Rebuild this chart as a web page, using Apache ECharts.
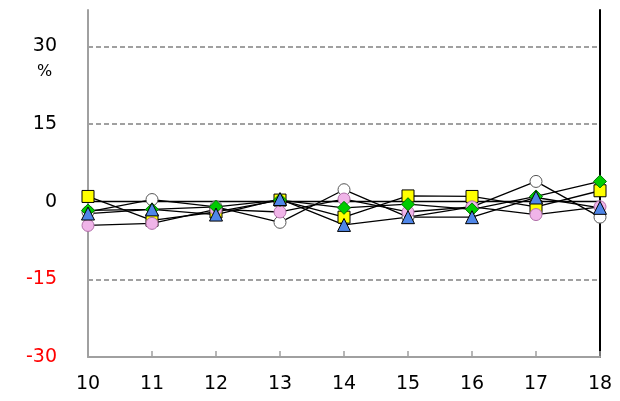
<!DOCTYPE html>
<html>
<head>
<meta charset="utf-8">
<script src="https://cdn.jsdelivr.net/npm/echarts@6/dist/echarts.min.js"></script>
<style>html,body{margin:0;padding:0;background:#fff}#c{width:620px;height:401px}</style>
</head>
<body>
<div id="c"></div>
<script>
var categories = ['10','11','12','13','14','15','16','17','18'];
var whiteCircle = [-2, 0.4, -1, -4, 2.3, -3, -1, 3.9, -3];
var yellowSquare = [1, -3.6, -2, 0.3, -3, 1.1, 1, -1, 2.1];
var pinkCircle = [-4.6, -4.2, -1.5, -2, 0.5, -2, -1, -2.5, -1];
var greenDiamond = [-1.7, -1.5, -1, 0.3, -1.2, -0.5, -1.5, 1, 3.9];
var blueTriangle = [-2.3, -1.5, -2.5, 0.5, -4.5, -3, -3, 0.8, -1.2];
var yTicks = [-30, -15, 0, 15, 30];
var dashedLevels = [30, 15, -15];

var chart = echarts.init(document.getElementById('c'), null, {renderer: 'canvas'});
var font = 'DejaVu Sans';
function mk(name, data, symbol, fill, border, size) {
  return {
    name: name, type: 'line', data: data, symbol: symbol, symbolSize: size,
    showAllSymbol: true,
    lineStyle: {color: '#000', width: 1.3},
    itemStyle: {color: fill, borderColor: border, borderWidth: 1},
    emphasis: {disabled: true},
    animation: false
  };
}
var series = [
  mk('a', whiteCircle, 'circle', '#ffffff', '#555555', 12),
  mk('b', yellowSquare, 'rect', '#ffff00', '#000000', 12),
  mk('c', pinkCircle, 'circle', '#f0b4e8', '#b070a8', 12),
  mk('d', greenDiamond, 'diamond', '#00cc00', '#007700', 13),
  mk('e', blueTriangle, 'triangle', '#4f86e8', '#000000', 13)
];
var ml = dashedLevels.map(function (v) {
  return {yAxis: v, lineStyle: {color: '#a0a0a0', width: 2, type: [5, 3]}};
});
ml.push({yAxis: 0, lineStyle: {color: '#000000', width: 1.3, type: 'solid'}});
series[0].markLine = {silent: true, symbol: 'none', label: {show: false}, data: ml, animation: false, z: 1};

chart.setOption({
  animation: false,
  grid: {left: 88, right: 20, top: 10, bottom: 44},
  xAxis: {
    type: 'category', data: categories, boundaryGap: false,
    axisLine: {onZero: false, lineStyle: {color: '#a0a0a0', width: 2}},
    axisTick: {show: true, inside: true, length: 6, alignWithLabel: true, lineStyle: {color: '#a0a0a0', width: 1.5}},
    axisLabel: {color: '#000', fontFamily: font, fontSize: 19, margin: 18}
  },
  yAxis: [{
    type: 'value', min: -30, max: 37, interval: 15,
    axisLine: {show: true, lineStyle: {color: '#a0a0a0', width: 2}},
    axisTick: {show: false},
    splitLine: {show: false},
    axisLabel: {
      fontFamily: font, fontSize: 19, margin: 31,
      formatter: function (v) { return yTicks.indexOf(v) >= 0 ? String(v) : ''; },
      color: function (v) { return Number(v) < 0 ? '#ff0000' : '#000000'; }
    }
  }, {
    type: 'value', min: -30, max: 37, interval: 15, position: 'right',
    axisLine: {show: true, lineStyle: {color: '#000', width: 2}},
    axisTick: {show: false}, axisLabel: {show: false}, splitLine: {show: false}
  }],
  graphic: [{
    type: 'text', left: 37, top: 64,
    style: {text: '%', fontFamily: font, fontSize: 16, fill: '#000'}
  }],
  series: series
});
</script>
</body>
</html>
